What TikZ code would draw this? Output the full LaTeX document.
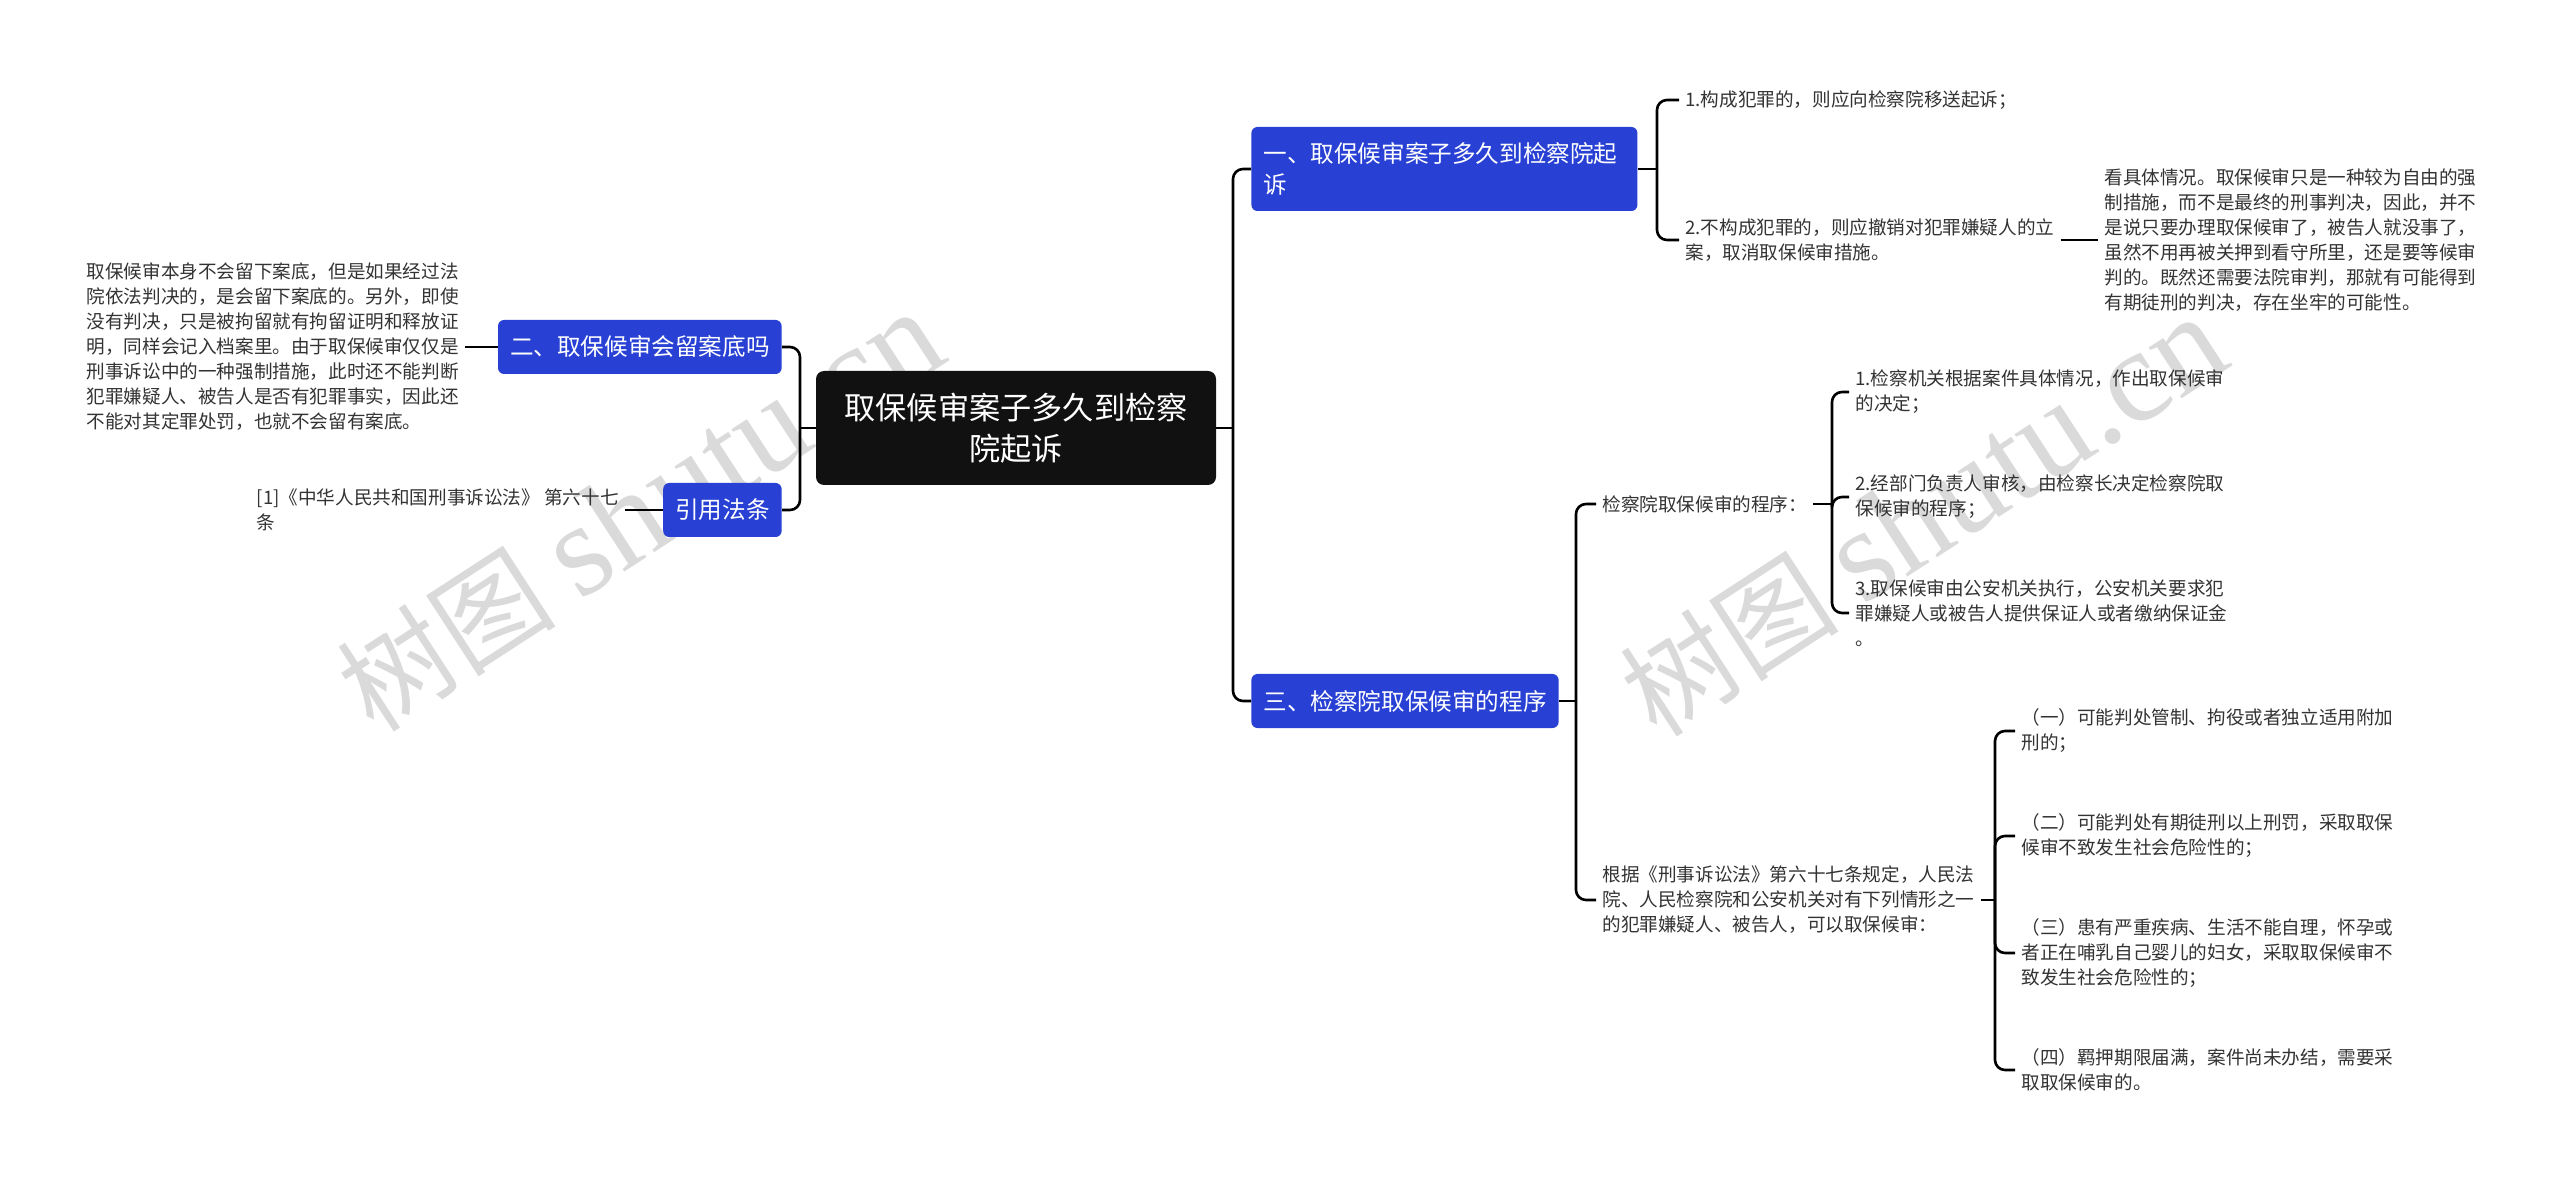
\documentclass[tikz,border=0pt]{standalone}
\usepackage{fontspec}
\setmainfont{Noto Sans CJK SC}
\newfontfamily\markfont{Liberation Serif}
\usetikzlibrary{positioning}
\definecolor{rootblack}{HTML}{111111}
\definecolor{topicblue}{HTML}{2841D4}
\definecolor{leafgray}{HTML}{333333}
\definecolor{markgray}{HTML}{DADADA}
\tikzstyle{central} = [rectangle, rounded corners=4pt, minimum width=200pt, minimum height=57pt, align=center, fill=rootblack, text=white, font=\fontsize{15.6}{20.5}\selectfont]
\tikzstyle{topic} = [rectangle, rounded corners=3pt, minimum height=27pt, inner xsep=6pt, align=left, fill=topicblue, text=white, font=\fontsize{11.8}{15.5}\selectfont]
\tikzstyle{leaf} = [inner xsep=3pt, inner ysep=1pt, align=left, text=leafgray, font=\fontsize{9.3}{12.5}\selectfont]
\tikzstyle{branch} = [line width=1.3pt, rounded corners=5pt]
\tikzstyle{watermark} = [rotate=33, text=markgray, font=\fontsize{55}{55}\selectfont]

\begin{document}
\begin{tikzpicture}[x=0.5pt, y=-0.5pt]
        \useasboundingbox [fill=white] (0,0) rectangle (2560,1181);
        \node (wm1) [watermark] at (640,512) {树图 {\markfont\fontsize{66}{66}\selectfont shutu.cn}};
        \node (wm2) [watermark] at (1923,517) {树图 {\markfont\fontsize{66}{66}\selectfont shutu.cn}};

        \node (root) [central] at (1016,428) {取保候审案子多久到检察\\院起诉};
        \node (t1) [topic, text width=181pt, minimum height=42pt, anchor=west] at (1251,169) {一、取保候审案子多久到检察院起\\诉};
        \node (t2) [topic, anchor=east] at (782,347) {二、取保候审会留案底吗};
        \node (t3) [topic, anchor=east] at (782,510) {引用法条};
        \node (t4) [topic, anchor=west] at (1251,701) {三、检察院取保候审的程序};

        \node (l1) [leaf, anchor=east] at (465,347) {取保候审本身不会留下案底，但是如果经过法\\院依法判决的，是会留下案底的。另外，即使\\没有判决，只是被拘留就有拘留证明和释放证\\明，同样会记入档案里。由于取保候审仅仅是\\刑事诉讼中的一种强制措施，此时还不能判断\\犯罪嫌疑人、被告人是否有犯罪事实，因此还\\不能对其定罪处罚，也就不会留有案底。};
        \node (l2) [leaf, anchor=east] at (625,510) {[1]《中华人民共和国刑事诉讼法》 第六十七\\条};

        \node (a1) [leaf, anchor=west] at (1679,100) {1.构成犯罪的，则应向检察院移送起诉；};
        \node (a2) [leaf, anchor=west] at (1679,240) {2.不构成犯罪的，则应撤销对犯罪嫌疑人的立\\案，取消取保候审措施。};
        \node (a3) [leaf, anchor=west] at (2098,240) {看具体情况。取保候审只是一种较为自由的强\\制措施，而不是最终的刑事判决，因此，并不\\是说只要办理取保候审了，被告人就没事了，\\虽然不用再被关押到看守所里，还是要等候审\\判的。既然还需要法院审判，那就有可能得到\\有期徒刑的判决，存在坐牢的可能性。};

        \node (b1) [leaf, anchor=west] at (1596,504) {检察院取保候审的程序：};
        \node (b2) [leaf, anchor=west] at (1596,900) {根据《刑事诉讼法》第六十七条规定，人民法\\院、人民检察院和公安机关对有下列情形之一\\的犯罪嫌疑人、被告人，可以取保候审：};

        \node (c1) [leaf, anchor=west] at (1849,392) {1.检察机关根据案件具体情况，作出取保候审\\的决定；};
        \node (c2) [leaf, anchor=west] at (1849,497) {2.经部门负责人审核，由检察长决定检察院取\\保候审的程序；};
        \node (c3) [leaf, anchor=west] at (1849,613) {3.取保候审由公安机关执行，公安机关要求犯\\罪嫌疑人或被告人提供保证人或者缴纳保证金\\。};

        \node (d1) [leaf, anchor=west] at (2015,731) {（一）可能判处管制、拘役或者独立适用附加\\刑的；};
        \node (d2) [leaf, anchor=west] at (2015,836) {（二）可能判处有期徒刑以上刑罚，采取取保\\候审不致发生社会危险性的；};
        \node (d3) [leaf, anchor=west] at (2015,953) {（三）患有严重疾病、生活不能自理，怀孕或\\者正在哺乳自己婴儿的妇女，采取取保候审不\\致发生社会危险性的；};
        \node (d4) [leaf, anchor=west] at (2015,1070) {（四）羁押期限届满，案件尚未办结，需要采\\取取保候审的。};

        \coordinate (rr) at (1233,428);
        \coordinate (rl) at (800,428);
        \coordinate (j1) at (1657,169);
        \coordinate (j4) at (1576,701);
        \coordinate (jb1) at (1832,504);
        \coordinate (jb2) at (1995,900);

        \draw [branch] (root.east) -- (rr);
        \draw [branch] (rr) |- (t1.west);
        \draw [branch] (rr) |- (t4.west);
        \draw [branch] (root.west) -- (rl);
        \draw [branch] (rl) |- (t2.east);
        \draw [branch] (rl) |- (t3.east);
        \draw [branch] (t2.west) -- (l1.east);
        \draw [branch] (t3.west) -- (l2.east);
        \draw [branch] (t1.east) -- (j1);
        \draw [branch] (j1) |- (a1.west);
        \draw [branch] (j1) |- (a2.west);
        \draw [branch] (a2.east) -- (a3.west);
        \draw [branch] (t4.east) -- (j4);
        \draw [branch] (j4) |- (b1.west);
        \draw [branch] (j4) |- (b2.west);
        \draw [branch] (b1.east) -- (jb1);
        \draw [branch] (jb1) |- (c1.west);
        \draw [branch] (jb1) |- (c2.west);
        \draw [branch] (jb1) |- (c3.west);
        \draw [branch] (b2.east) -- (jb2);
        \draw [branch] (jb2) |- (d1.west);
        \draw [branch] (jb2) |- (d2.west);
        \draw [branch] (jb2) |- (d3.west);
        \draw [branch] (jb2) |- (d4.west);

      \end{tikzpicture}
\end{document}
